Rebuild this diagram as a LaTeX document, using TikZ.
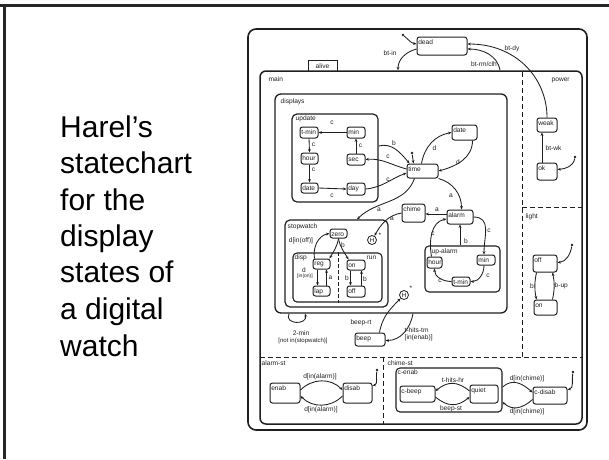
\documentclass[tikz,border=0pt]{standalone}
\usepackage{fontspec}
\setmainfont{Liberation Sans}
\usetikzlibrary{arrows.meta,fit}

% a state box between two corners, with its name near the top-left corner
\newcommand\mystate[6]{%
  \node[st, fit={(#2,#3) (#4,#5)}] (#1) {};
  \node[lbl, anchor=west, inner sep=0.4pt] (#1-l) at ([xshift=1.2pt,yshift=-6pt]#1.north west) {#6};}

\begin{document}
\begin{tikzpicture}[x=1pt, y=-1pt,
  ink/.style={draw=black!88},
  st/.style={ink, line width=1pt, rounded corners=2.5pt, inner sep=0pt},
  region/.style={ink, line width=1.3pt, inner sep=0pt},
  lbl/.style={font=\fontsize{6.6}{7.5}\selectfont, text=black!88, inner sep=0.5pt},
  title/.style={font=\fontsize{30}{36}\selectfont, text=black, inner sep=0pt, anchor=base west},
  arr/.style={ink, line width=0.85pt, -{Stealth[length=3.4pt,width=2.8pt]}},
  dot/.style={circle, fill=black!88, inner sep=0pt, minimum size=2.8pt},
  hist/.style={ink, circle, line width=0.8pt, inner sep=0pt, minimum size=9pt, font=\fontsize{6}{6}\selectfont},
  sep/.style={ink, line width=1pt, dash pattern=on 5pt off 3pt}]
\useasboundingbox (0,0) rectangle (609,459);

% slide frame
\draw[line width=2.6pt, black!85] (0,5.3) -- (609,5.3);
\draw[line width=3pt, black!85] (4.3,5.3) -- (4.3,459);

% caption
\node[title] (t1) at (60,137.3) {Harel’s};
\node[title] (t2) at (60,173.8) {statechart};
\node[title] (t3) at (60,210.3) {for the};
\node[title] (t4) at (60,246.3) {display};
\node[title] (t5) at (60,282.8) {states of};
\node[title] (t6) at (60,319.8) {a digital};
\node[title] (t7) at (60,356.3) {watch};

% ---------- containers ----------
\node[region, line width=1.6pt, rounded corners=8pt, fit={(248,29) (587,430)}] (outer) {};
\node[region, line width=1.5pt, rounded corners=6pt, fit={(260,71) (582,424)}] (main) {};
\node[ink, line width=1pt, inner sep=0pt, fit={(308,60) (337,71)}] (alive) {};
\node[lbl] (alive-l) at (322.5,66) {alive};
\node[lbl, anchor=west] (main-l) at (268,79.5) {main};
\node[lbl, anchor=west] (power-l) at (551,80) {power};
\node[lbl, anchor=west] (light-l) at (525,217) {light};
\node[lbl, anchor=west] (alst-l) at (261,363) {alarm-st};
\node[lbl, anchor=west] (chst-l) at (387,363) {chime-st};

% orthogonal components
\draw[sep] (522,72) -- (522,357);
\draw[sep] (522,207) -- (582,207);
\draw[sep] (260,357) -- (582,357);
\draw[sep] (383,357) -- (383,424);

% ---------- dead / alive ----------
\mystate{dead}{417}{37}{467}{55}{dead}
\node[dot] (i-dead) at (403,35) {};
\draw[arr] (i-dead) to[out=-40, in=170] ([yshift=2pt]dead.west);
\draw[arr] ([yshift=-3pt]dead.west) to[out=195, in=90] (398,0 |- main.north);
\node[lbl] (btin-l) at (390,53) {bt-in};
\draw[arr] (500,0 |- main.north) to[out=100, in=0] ([yshift=-3pt]dead.east);
\node[lbl] (btrm-l) at (484,64) {bt-rm/clh};

% ---------- power ----------
\mystate{weak}{537}{118}{557}{132}{weak}
\mystate{ok}{537}{163}{557}{180}{ok}
\draw[arr] (weak.north) .. controls +(0,-40) and +(48,0) .. ([yshift=2pt]dead.east);
\node[lbl] (btdy-l) at (512,49) {bt-dy};
\draw[arr] ([xshift=-5pt]ok.north) -- ([xshift=-5pt]weak.south);
\node[lbl, anchor=west] (btwk-l) at (545,148) {bt-wk};
\node[dot] (i-ok) at (575,157) {};
\draw[arr] (i-ok) to[out=-100, in=5] ([yshift=2pt]ok.east);

% ---------- light ----------
\mystate{loff}{533}{255}{557}{272}{off}
\mystate{lon}{534}{300}{557}{315}{on}
\draw[arr] ([xshift=4pt]loff.south west) to[bend right=12] ([xshift=3pt]lon.north west);
\node[lbl] (lb-l) at (532,286) {b};
\draw[arr] ([xshift=-5pt]lon.north east) to[bend right=12] ([xshift=-5pt]loff.south east);
\node[lbl, anchor=west] (lbup-l) at (554,286) {b-up};
\node[dot] (i-loff) at (572,245) {};
\draw[arr] (i-loff) to[out=-100, in=5] ([yshift=1pt]loff.east);

% ---------- displays ----------
\node[region, rounded corners=6pt, fit={(275,94) (507,313)}] (displays) {};
\node[lbl, anchor=west] (displays-l) at (280,102) {displays};
\node[region, line width=1.2pt, rounded corners=5pt, fit={(292,114) (378,202)}] (update) {};
\node[lbl, anchor=west] (update-l) at (295,119) {update};

\mystate{utmin}{300}{127}{318}{138}{t-min}
\mystate{umin}{347}{127}{365}{138}{min}
\mystate{uhour}{301}{153}{318}{164}{hour}
\mystate{usec}{347}{154}{365}{165}{sec}
\mystate{udate}{301}{183}{318}{193}{date}
\mystate{uday}{347}{183}{365}{195}{day}
\draw[arr] (umin.west) -- (utmin.east);
\node[lbl] (uc1) at (332,123) {c};
\draw[arr] (utmin.south) -- (uhour.north);
\node[lbl] (uc2) at (313.5,145) {c};
\draw[arr] (uhour.south) -- (udate.north);
\node[lbl] (uc3) at (313.5,170) {c};
\draw[arr] (udate.east) -- (uday.west);
\node[lbl] (uc4) at (332,196) {c};
\draw[arr] (usec.north) -- (umin.south);
\node[lbl] (uc5) at (360.5,146) {c};

\mystate{time}{407}{164}{438}{178}{time}
\node[dot] (i-time) at (412,153) {};
\draw[arr] (i-time) -- ([xshift=7pt]time.north west);
\draw[arr] ([yshift=2pt]time.west) to[out=165, in=5] (usec.east);
\node[lbl] (tc1) at (388,157) {c};
\draw[arr] (uday.east) to[out=5, in=200] ([yshift=-2pt]time.west);
\node[lbl] (tc2) at (388,180) {c};
\draw[arr] ([yshift=12pt]update.east) to[out=15, in=130] ([xshift=3pt]time.north west);
\node[lbl] (tb1) at (394,143) {b};

\mystate{ddate}{452}{125}{477}{140}{date}
\draw[arr] ([xshift=15pt]time.north west) to[out=80, in=190] (ddate.west);
\node[lbl] (td1) at (434.5,148) {d};
\draw[arr] ([xshift=-5pt]ddate.south east) to[out=-90, in=15] (time.east);
\node[lbl] (td2) at (458,162) {d};

\mystate{alarm}{447}{210}{473}{224}{alarm}
\draw[arr] (time.south east) to[out=-15, in=90] ([xshift=-12pt]alarm.north east);
\node[lbl] (ta1) at (451,196) {a};
\mystate{chime}{402}{204}{425}{222}{chime}
\draw[arr] (alarm.west |- 0,214) -- (chime.east |- 0,214);
\node[lbl] (ta2) at (437,210) {a};

% ---------- stopwatch ----------
\node[region, line width=1.2pt, rounded corners=5pt, fit={(285,220) (388,307)}] (stopwatch) {};
\node[lbl, anchor=west] (stopwatch-l) at (287,227) {stopwatch};
\node[hist] (hist1) at (372,240) {H};
\node[lbl] (hist1-s) at (380,235) {*};
\draw[arr] (chime.west) to[out=190, in=60] (hist1);
\node[lbl] (ta3) at (392,219) {a};
\draw[arr] ([xshift=8pt]time.south west) to[out=-110, in=45] (357,0 |- stopwatch.north);
\node[lbl] (ta4) at (379,210) {a};

\mystate{zero}{330}{229}{347}{238}{zero}
\node[region, line width=1.1pt, rounded corners=4pt, fit={(293,253) (382,302)}] (swinner) {};
\draw[sep, line width=0.8pt, dash pattern=on 4pt off 2pt] (338,0 |- swinner.north) -- (338,0 |- swinner.south);
\node[lbl, anchor=west] (disp-l) at (294,258) {disp};
\node[lbl, anchor=west] (run-l) at (366,258) {run};
\mystate{reg}{313}{259}{330}{269}{reg}
\mystate{lap}{313}{286}{330}{296}{lap}
\mystate{swon}{347}{260}{365}{270}{on}
\mystate{swoff}{347}{286}{365}{297}{off}
\draw[arr] ([xshift=2pt]reg.north west) to[out=100, in=190] (zero.west);
\node[lbl] (sd1) at (301,241) {d[in(off)]};
\draw[arr] (zero.south) to[out=-100, in=60] ([xshift=-1pt]reg.north east);
\draw[arr] (zero.south) to[out=-80, in=120] ([xshift=2pt]swon.north west);
\node[lbl] (sb1) at (343,245) {b};
\draw[arr] ([xshift=5pt]reg.south west) -- ([xshift=5pt]lap.north west);
\node[lbl] (sd2) at (304,270) {d};
\node[lbl, font=\fontsize{5}{6}\selectfont] (sd2b) at (305,276) {[in(on)]};
\draw[arr] ([xshift=-4pt]lap.north east) -- ([xshift=-4pt]reg.south east);
\node[lbl] (sa1) at (330.5,278) {a};
\draw[arr] ([xshift=4pt]swon.south west) -- ([xshift=4pt]swoff.north west);
\node[lbl] (sb2) at (347,278) {b};
\draw[arr] ([xshift=-4pt]swoff.north east) -- ([xshift=-4pt]swon.south east);
\node[lbl] (sb3) at (365,279) {b};

% ---------- up-alarm ----------
\node[region, line width=1.1pt, rounded corners=4pt, fit={(425,246) (500,292)}] (upalarm) {};
\node[lbl, anchor=west] (upalarm-l) at (431,252) {up-alarm};
\mystate{ahour}{427}{257}{442}{268}{hour}
\mystate{amin}{477}{255}{495}{265}{min}
\mystate{atmin}{452}{277}{470}{286}{t-min}
\draw[arr] (460,0 |- upalarm.north) -- (460,0 |- alarm.south);
\node[lbl] (ab1) at (466,241) {b};
\draw[arr] (alarm.east) to[out=0, in=90, looseness=1.2] ([xshift=-2pt]amin.north);
\node[lbl] (ac1) at (489,231) {c};
\draw[arr] ([xshift=-3pt]ahour.north) to[out=100, in=190] ([yshift=-2pt]alarm.west);
\node[lbl] (ac2) at (433,234) {c};
\draw[arr] ([xshift=-2pt]amin.south) to[out=-90, in=0] (atmin.east);
\node[lbl] (ac3) at (488,276) {c};
\draw[arr] (atmin.west) to[out=180, in=-90] (ahour.south);
\node[lbl] (ac4) at (440,280.5) {c};

% ---------- beep and history ----------
\node[hist] (hist2) at (404,295) {H};
\node[lbl] (hist2-s) at (411,288) {*};
\mystate{beep}{355}{333}{385}{346}{beep}
\draw[arr] ([xshift=-6pt]beep.north east) to[out=80, in=225] (hist2);
\node[lbl] (beeprt-l) at (361,323) {beep-rt};
\draw[arr] (413,0 |- displays.south) to[out=-100, in=0] ([yshift=-1pt]beep.east);
\node[lbl, anchor=west] (thtm-l) at (404,330) {t-hits-tm};
\node[lbl, anchor=west] (thtm-l2) at (404,338) {[in(enab)]};
\draw[arr] (289,0 |- displays.south) .. controls (284,325) and (308,325) .. (305,0 |- displays.south);
\node[lbl] (twomin-l) at (301,333) {2-min};
\node[lbl, font=\fontsize{6}{7}\selectfont] (twomin-l2) at (303,341) {[not in(stopwatch)]};

% ---------- alarm-st ----------
\mystate{enab}{270}{383}{300}{403}{enab}
\mystate{disab}{343}{383}{372}{403}{disab}
\draw[arr] ([yshift=3pt]enab.east) .. controls +(12,-12) and +(-12,-12) .. ([yshift=3pt]disab.west);
\node[lbl] (dal1) at (320,377) {d[in(alarm)]};
\draw[arr] ([yshift=-3pt]disab.west) .. controls +(-12,12) and +(12,12) .. ([yshift=-3pt]enab.east);
\node[lbl] (dal2) at (321,410) {d[in(alarm)]};
\node[dot] (i-disab) at (377,370) {};
\draw[arr] (i-disab) to[out=-100, in=10] ([yshift=-3pt]disab.north east);

% ---------- chime-st ----------
\node[region, line width=1.1pt, rounded corners=4pt, fit={(396,368) (502,412)}] (cenab) {};
\node[lbl, anchor=west] (cenab-l) at (397,372) {c-enab};
\mystate{cbeep}{400}{386}{435}{402}{c-beep}
\mystate{quiet}{470}{385}{498}{403}{quiet}
\mystate{cdisab}{533}{387}{567}{404}{c-disab}
\draw[arr] ([yshift=3pt]quiet.west) .. controls +(-12,-10) and +(12,-10) .. ([yshift=3pt]cbeep.east);
\node[lbl] (thhr-l) at (453,380) {t-hits-hr};
\draw[arr] ([yshift=-3pt]cbeep.east) .. controls +(12,10) and +(-12,10) .. ([yshift=-3pt]quiet.west);
\node[lbl] (beepst-l) at (451,409) {beep-st};
\draw[arr] (cenab.east |- 0,387) .. controls +(10,-9) and +(-10,-9) .. ([yshift=3pt]cdisab.west);
\node[lbl] (dch1) at (527,379) {d[in(chime)]};
\draw[arr] ([yshift=-4pt]cdisab.west) .. controls +(-10,9) and +(10,9) .. (cenab.east |- 0,402);
\node[lbl] (dch2) at (527,412) {d[in(chime)]};
\node[dot] (i-cdisab) at (573,372) {};
\draw[arr] (i-cdisab) to[out=-100, in=10] ([yshift=-3pt]cdisab.north east);
\end{tikzpicture}
\end{document}
